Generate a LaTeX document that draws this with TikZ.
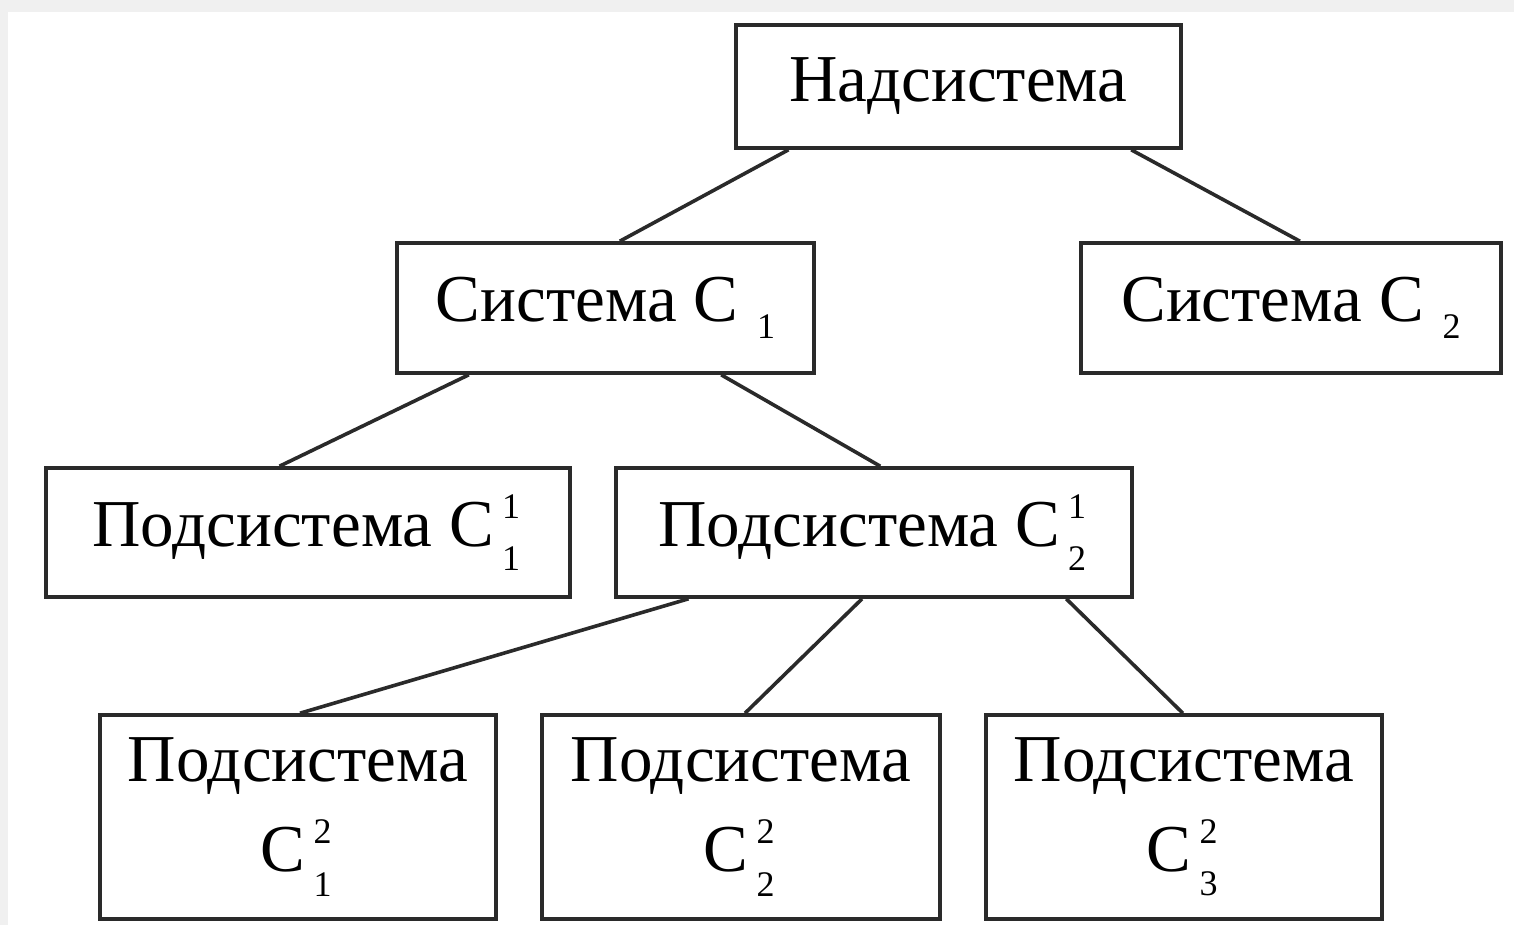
\documentclass[tikz,border=0pt]{standalone}
\usepackage{fontspec}
\setmainfont{Liberation Serif}
\usetikzlibrary{calc}
\newcommand\cud[2]{\kern0.12em\rlap{\raisebox{0.42em}{\fontsize{36}{36}\selectfont #1}}\raisebox{-0.36em}{\fontsize{36}{36}\selectfont #2}\kern0.05em}
\newcommand\csb[1]{\kern0.28em\raisebox{-0.26em}{\fontsize{36}{36}\selectfont #1}}
\definecolor{edge}{HTML}{2A2A2A}
\definecolor{bgray}{HTML}{F0F0F0}
\begin{document}
\begin{tikzpicture}[x=1pt,y=-1pt,
  box/.style={draw=edge,line width=3.6pt,rectangle,inner sep=0pt,align=center,
    font=\fontsize{67}{90}\selectfont,text=black},
  link/.style={draw=edge,line width=3.6pt}]
\fill[bgray] (0,0) rectangle (1514,925);
\fill[white] (8,12) rectangle (1514,925);
\useasboundingbox (0,0) rectangle (1514,925);
\node[box,minimum width=445pt,minimum height=123pt] (top) at (958.5,86.5) {Надсистема};
\node[box,minimum width=417pt,minimum height=130pt] (s1) at (605.5,308) {Система С\csb{1}};
\node[box,minimum width=420pt,minimum height=130pt] (s2) at (1291,308) {Система С\csb{2}};
\node[box,minimum width=524pt,minimum height=129pt] (p11) at (308,532.5) {Подсистема С\cud{1}{1}};
\node[box,minimum width=516pt,minimum height=129pt] (p12) at (874,532.5) {Подсистема С\cud{1}{2}};
\node[box,minimum width=396pt,minimum height=204pt] (b1) at (298,817) {Подсистема\\С\cud{2}{1}};
\node[box,minimum width=398pt,minimum height=204pt] (b2) at (741,817) {Подсистема\\С\cud{2}{2}};
\node[box,minimum width=396pt,minimum height=204pt] (b3) at (1184,817) {Подсистема\\С\cud{2}{3}};
\draw[link] ($(top.south west)!0.121!(top.south east)$) -- ($(s1.north west)!0.534!(s1.north east)$);
\draw[link] ($(top.south west)!0.885!(top.south east)$) -- ($(s2.north west)!0.521!(s2.north east)$);
\draw[link] ($(s1.south west)!0.175!(s1.south east)$) -- ($(p11.north west)!0.446!(p11.north east)$);
\draw[link] ($(s1.south west)!0.775!(s1.south east)$) -- ($(p12.north west)!0.512!(p12.north east)$);
\draw[link] ($(p12.south west)!0.143!(p12.south east)$) -- ($(b1.north west)!0.505!(b1.north east)$);
\draw[link] ($(p12.south west)!0.477!(p12.south east)$) -- ($(b2.north west)!0.510!(b2.north east)$);
\draw[link] ($(p12.south west)!0.870!(p12.south east)$) -- ($(b3.north west)!0.497!(b3.north east)$);
\end{tikzpicture}
\end{document}
